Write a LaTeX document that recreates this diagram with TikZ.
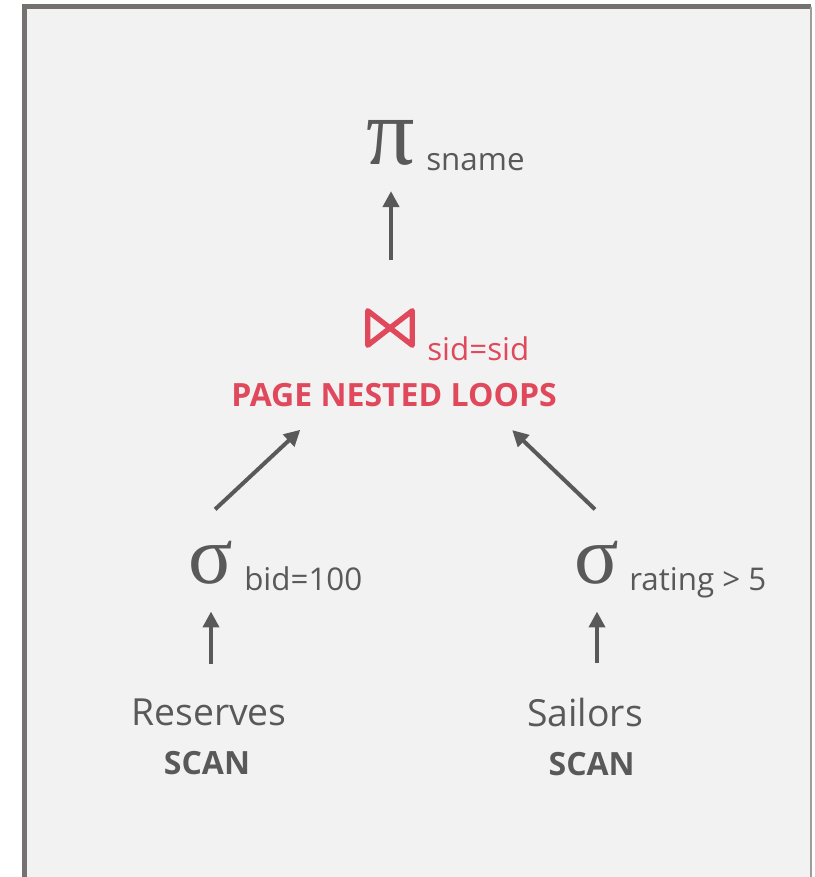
\documentclass[tikz,border=0pt]{standalone}
\usepackage{fontspec}
\setmainfont{Open Sans}
\newfontfamily\greekfont{Liberation Serif}
\usetikzlibrary{arrows.meta,positioning}

\definecolor{opgray}{HTML}{595959}
\definecolor{joinred}{HTML}{E0485B}
\definecolor{panel}{HTML}{F2F2F2}
\definecolor{framegray}{HTML}{767171}

\begin{document}
\begin{tikzpicture}[x=0.75pt,y=-0.75pt,>={Triangle[length=12pt,width=12pt]}]
  \tikzstyle{op}=[font=\greekfont\fontsize{72}{72}\selectfont,text=opgray,inner sep=0pt]
  \tikzstyle{sub}=[font=\fontsize{23.5}{23.5}\selectfont,text=opgray,anchor=base west,inner sep=0pt]
  \tikzstyle{rel}=[font=\fontsize{28}{28}\selectfont,text=opgray,inner sep=0pt]
  \tikzstyle{scan}=[font=\bfseries\fontsize{24}{24}\selectfont,text=opgray,inner sep=0pt]
  \tikzstyle{flow}=[->,line width=3pt,draw=opgray]

  % panel and frame
  \useasboundingbox (0,0) rectangle (814,877);
  \fill[panel] (24,7) rectangle (811,877);
  \draw[framegray,line width=3.75pt] (24,877) -- (24,7) -- (811,7);
  \draw[framegray!70,line width=1.2pt] (811,7) -- (811,877);

  \node[op]  (pi)    at (391,143) {π};
  \node[sub] (sname) at (426,171) {sname};

  \node[minimum width=33pt,minimum height=25.5pt,inner sep=0pt] (join) at (390,328) {};
  \draw[joinred,line width=4pt,line join=round]
    (join.north west) -- (join.south east) -- (join.north east) -- (join.south west) -- cycle;
  \node[sub,text=joinred] (cond) at (427,360) {sid=sid};
  \node[font=\bfseries\fontsize{24}{24}\selectfont,text=joinred,inner sep=0pt] (pnl) at (394,395) {PAGE NESTED LOOPS};

  \node[op,font=\greekfont\fontsize{62}{62}\selectfont] (sigL) at (211,563) {σ};
  \node[sub] (bid) at (244,590) {bid=100};
  \node[op,font=\greekfont\fontsize{62}{62}\selectfont] (sigR) at (597,563) {σ};
  \node[sub] (rating) at (629,590) {rating > 5};

  \node[rel]  (res)   at (209,712) {Reserves};
  \node[scan] (scanL) [below=19pt of res,xshift=-1.5pt] {SCAN};
  \node[rel]  (sail)  at (585,712) {Sailors};
  \node[scan] (scanR) [below=19pt of sail,xshift=5pt] {SCAN};

  \draw[flow,shorten <=38pt,shorten >=19pt] (pi |- join.north) -- (pi.south);
  \draw[flow,shorten <=35pt,shorten >=25pt] ([xshift=-22.5pt]sigL.north) -- ([xshift=-52pt]pnl.south);
  \draw[flow,shorten <=34.5pt,shorten >=25pt] ([xshift=23.4pt]sigR.north) -- ([xshift=70.6pt]pnl.south);
  \draw[flow,shorten <=25.5pt,shorten >=20pt] (sigL |- res.north) -- (sigL.south);
  \draw[flow,shorten <=25.5pt,shorten >=20pt] (sigR |- sail.north) -- (sigR.south);
\end{tikzpicture}
\end{document}
